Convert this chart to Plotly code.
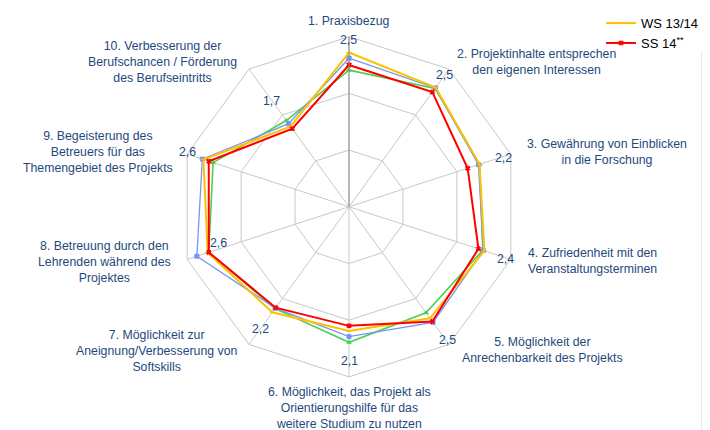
import plotly.graph_objects as go

# ---------------- data ----------------
categories = [
    "1. Praxisbezug",
    "2. Projektinhalte entsprechen den eigenen Interessen",
    "3. Gewährung von Einblicken in die Forschung",
    "4. Zufriedenheit mit den Veranstaltungsterminen",
    "5. Möglichkeit der Anrechenbarkeit des Projekts",
    "6. Möglichkeit, das Projekt als Orientierungshilfe für das weitere Studium zu nutzen",
    "7. Möglichkeit zur Aneignung/Verbesserung von Softskills",
    "8. Betreuung durch den Lehrenden während des Projektes",
    "9. Begeisterung des Betreuers für das Themengebiet des Projekts",
    "10. Verbesserung der Berufschancen / Förderung des Berufseintritts",
]
category_labels = [
    "1. Praxisbezug",
    "2. Projektinhalte entsprechen<br>den eigenen Interessen",
    "3. Gewährung von Einblicken<br>in die Forschung",
    "4. Zufriedenheit mit den<br>Veranstaltungsterminen",
    "5. Möglichkeit der<br>Anrechenbarkeit des Projekts",
    "6. Möglichkeit, das Projekt als<br>Orientierungshilfe für das<br>weitere Studium zu nutzen",
    "7. Möglichkeit zur<br>Aneignung/Verbesserung von<br>Softskills",
    "8. Betreuung durch den<br>Lehrenden während des<br>Projektes",
    "9. Begeisterung des<br>Betreuers für das<br>Themengebiet des Projekts",
    "10. Verbesserung der<br>Berufschancen / Förderung<br>des Berufseintritts",
]
series_green = [2.41, 2.58, 2.42, 2.48, 2.31, 2.39, 2.22, 2.60, 2.52, 1.88]
series_blue = [2.62, 2.59, 2.40, 2.49, 2.52, 2.29, 2.21, 2.82, 2.72, 1.81]
ws_1314 = [2.72, 2.60, 2.42, 2.51, 2.43, 2.19, 2.30, 2.62, 2.70, 1.75]
ss_14 = [2.5, 2.5, 2.2, 2.4, 2.5, 2.1, 2.2, 2.6, 2.6, 1.7]

# ---------------- layout constants ----------------
OFF = 8                      # default page body margin
W, H = 710 - OFF, 430 - OFF  # figure fits exactly inside the window
CX, CY, R = 349, 203, 173    # window pixel coords of the radar centre
FONT = "Liberation Sans, Arial, sans-serif"
FS = 12.3
TXT = "#1f497d"

# label centres in window pixels
cat_pos = [(349, 14), (536, 56), (607, 147), (592, 258), (542, 349),
           (349, 408), (157, 350), (104, 259), (98, 147), (162, 56)]
val_pos = [(348, 33), (444, 69), (503, 153), (505, 256), (447, 338),
           (349, 360), (260, 327), (218, 240), (187, 147), (271, 95)]


def px(x, y):
    return (x - OFF) / W, 1 - (y - OFF) / H


def close(v):
    return list(v) + [v[0]]


theta = close(categories)

fig = go.Figure()
traces = [
    ("SS 13", series_green, "#4fcf4f", 1.6, "triangle-up", False),
    ("WS 12/13", series_blue, "#7396f5", 1.3, "square", False),
    ("WS 13/14", ws_1314, "#ffc000", 2.0, "line-ew", True),
    ("SS 14<sup>**</sup>", ss_14, "#ff0000", 2.0, "x", True),
]
for name, vals, col, w, sym, show in traces:
    fig.add_trace(go.Scatterpolar(
        r=close(vals), theta=theta, mode="lines+markers", name=name,
        line=dict(color=col, width=w),
        marker=dict(symbol=sym, size=4, color=col, line=dict(color=col, width=1)),
        showlegend=show,
    ))

annotations = []
for txt, (x, y) in zip(category_labels, cat_pos):
    ax, ay = px(x, y)
    annotations.append(dict(
        text=txt, x=ax, y=ay, xref="paper", yref="paper",
        xanchor="center", yanchor="middle", showarrow=False, align="center",
        font=dict(family=FONT, size=FS, color=TXT)))
for v, (x, y) in zip(ss_14, val_pos):
    ax, ay = px(x, y)
    annotations.append(dict(
        text=f"{v:.1f}".replace(".", ","), x=ax, y=ay,
        xref="paper", yref="paper", xanchor="center", yanchor="middle",
        showarrow=False, font=dict(family=FONT, size=FS, color=TXT)))

dx0, dy1 = px(CX - R, CY - R)
dx1, dy0 = px(CX + R, CY + R)
lx, ly = px(601, 1)
sx, sy0 = px(702, 45)

fig.update_layout(
    width=W, height=H,
    margin=dict(l=0, r=0, t=0, b=0),
    paper_bgcolor="white",
    font=dict(family=FONT, size=FS, color="black"),
    polar=dict(
        domain=dict(x=[dx0, dx1], y=[dy0, dy1]),
        bgcolor="white",
        gridshape="linear",
        radialaxis=dict(range=[0, 3], dtick=1, showticklabels=False,
                        ticks="", showline=True, linecolor="#8c8c8c",
                        linewidth=1, gridcolor="#c8c8c8", angle=90),
        angularaxis=dict(direction="clockwise", rotation=90,
                         showticklabels=False, ticks="",
                         showline=True, linecolor="#c8c8c8",
                         gridcolor="#c8c8c8"),
    ),
    legend=dict(x=lx, y=ly, xanchor="left", yanchor="top",
                itemwidth=30, bgcolor="rgba(0,0,0,0)",
                font=dict(family=FONT, size=13, color="black")),
    annotations=annotations,
    shapes=[dict(type="line", xref="paper", yref="paper",
                 x0=sx, x1=sx, y0=0, y1=sy0,
                 line=dict(color="#d0d0d0", width=1))],
)

fig.write_html("out.html")
